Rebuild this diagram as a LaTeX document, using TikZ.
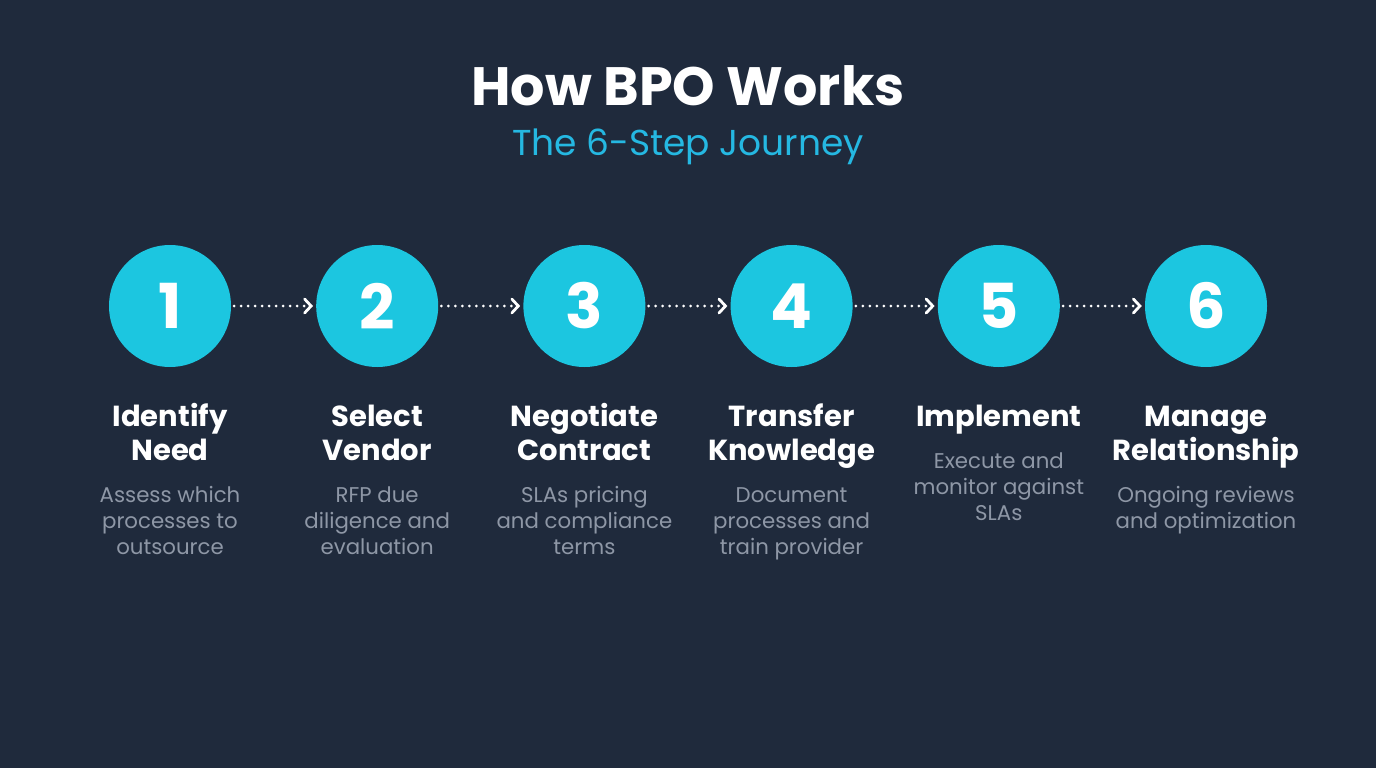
\documentclass[tikz,border=0pt]{standalone}
\usepackage{fontspec}
\setmainfont{Poppins}
\usetikzlibrary{positioning,arrows.meta}

\definecolor{bgnavy}{HTML}{1F2A3C}
\definecolor{stepcyan}{HTML}{1CC6E0}
\definecolor{subcyan}{HTML}{25B8E2}
\definecolor{notegray}{HTML}{8E97A6}

\begin{document}
\begin{tikzpicture}[x=1pt,y=-1pt,node distance=207.2pt,on grid,
		stepnum/.style={circle,fill=stepcyan,minimum size=122pt,inner sep=0pt,text=white,font=\fontsize{62}{62}\selectfont\bfseries},
		steptitle/.style={align=center,inner sep=0pt,text=white,font=\fontsize{29}{34}\selectfont\bfseries},
		stepnote/.style={align=center,inner sep=0pt,text=notegray,font=\fontsize{21.3}{26}\selectfont},
		flow/.style={white,line width=3pt,line cap=round,dash pattern=on 0pt off 7pt,shorten <=3pt,shorten >=3pt,
			-{Straight Barb[length=6.5pt,width=14pt,line width=2.8pt,line cap=round]}}]
		\fill[bgnavy] (0,0) rectangle (1376,768);
		\useasboundingbox (0,0) rectangle (1376,768);
		
		\node[text=white,font=\fontsize{54}{54}\selectfont\bfseries]	(title)	at (688,86)	{How BPO Works};
		\node[text=subcyan,font=\fontsize{36}{36}\selectfont]	(subtitle)	at (688,147)	{The 6-Step Journey};
		
		\node[stepnum]	(c1)	at (170,306)	{1};
		\node[stepnum]	(c2)	[right=of c1]	{2};
		\node[stepnum]	(c3)	[right=of c2]	{3};
		\node[stepnum]	(c4)	[right=of c3]	{4};
		\node[stepnum]	(c5)	[right=of c4]	{5};
		\node[stepnum]	(c6)	[right=of c5]	{6};
		
		% struts keep every first and last line the same height
		\node[steptitle]	(t1)	[below=96pt of c1,anchor=north]	{\strut Identify\\Need\strut};
		\node[steptitle]	(t2)	[below=96pt of c2,anchor=north]	{\strut Select\\Vendor\strut};
		\node[steptitle]	(t3)	[below=96pt of c3,anchor=north]	{\strut Negotiate\\Contract\strut};
		\node[steptitle]	(t4)	[below=96pt of c4,anchor=north]	{\strut Transfer\\Knowledge\strut};
		\node[steptitle]	(t5)	[below=96pt of c5,anchor=north]	{\strut Implement\strut};
		\node[steptitle]	(t6)	[below=96pt of c6,anchor=north]	{\strut Manage\\Relationship\strut};
		
		\node[stepnote]	(d1)	[below=13.5pt of t1.south,anchor=north]	{\strut Assess which\\processes to\\outsource\strut};
		\node[stepnote]	(d2)	[below=13.5pt of t2.south,anchor=north]	{\strut RFP due\\diligence and\\evaluation\strut};
		\node[stepnote]	(d3)	[below=13.5pt of t3.south,anchor=north]	{\strut SLAs pricing\\and compliance\\terms\strut};
		\node[stepnote]	(d4)	[below=13.5pt of t4.south,anchor=north]	{\strut Document\\processes and\\train provider\strut};
		\node[stepnote]	(d5)	[below=13.5pt of t5.south,anchor=north]	{\strut Execute and\\monitor against\\SLAs\strut};
		\node[stepnote]	(d6)	[below=13.5pt of t6.south,anchor=north]	{\strut Ongoing reviews\\and optimization\strut};
		
		\path[flow]	(c1)	edge	(c2)
					(c2)	edge	(c3)
					(c3)	edge	(c4)
					(c4)	edge	(c5)
					(c5)	edge	(c6);
	\end{tikzpicture}
\end{document}
